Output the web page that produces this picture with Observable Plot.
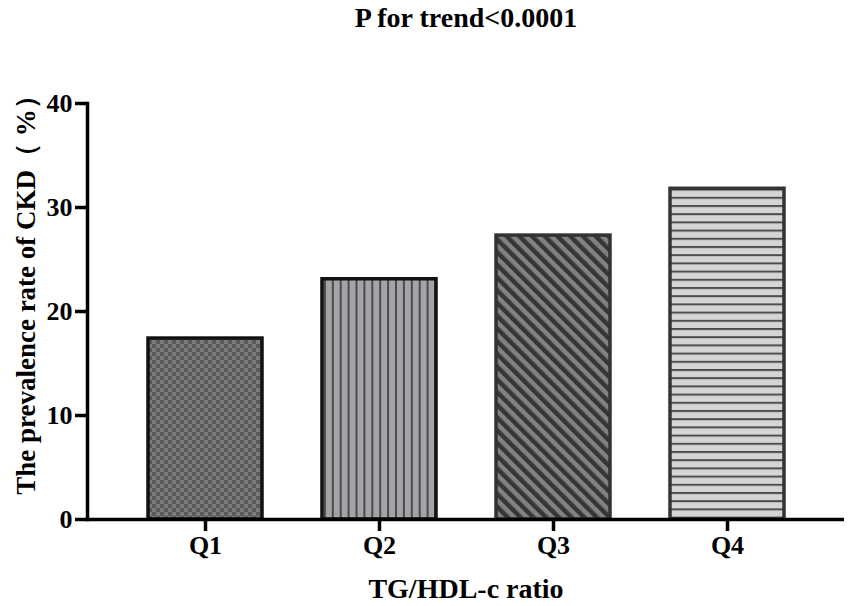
<!DOCTYPE html>
<html>
<head>
<meta charset="utf-8">
<script src="https://cdn.jsdelivr.net/npm/d3@7"></script>
<script src="https://cdn.jsdelivr.net/npm/@observablehq/plot@0.6"></script>
<style>
  html, body { margin: 0; padding: 0; background: #fff; }
  #chart { width: 851px; height: 606px; }
</style>
</head>
<body>
<svg width="0" height="0" style="position:absolute">
  <defs>
    <pattern id="pat-Q1" patternUnits="userSpaceOnUse" width="8" height="8">
      <rect width="8" height="8" fill="#7c7c7c"/>
      <rect width="4" height="4" fill="#5a5a5a"/>
      <rect x="4" y="4" width="4" height="4" fill="#5a5a5a"/>
    </pattern>
    <pattern id="pat-Q2" patternUnits="userSpaceOnUse" width="7.9" height="10">
      <rect width="7.9" height="10" fill="#a4a4a8"/>
      <rect x="0" width="2" height="10" fill="#4a4a4a"/>
    </pattern>
    <pattern id="pat-Q3" patternUnits="userSpaceOnUse" width="9" height="10" patternTransform="rotate(-45)">
      <rect width="9" height="10" fill="#828282"/>
      <rect width="4.5" height="10" fill="#363636"/>
    </pattern>
    <pattern id="pat-Q4" patternUnits="userSpaceOnUse" width="10" height="8.2">
      <rect width="10" height="8.2" fill="#d5d5d5"/>
      <rect width="10" height="2" fill="#4d4d4d"/>
    </pattern>
  </defs>
</svg>
<div id="chart"></div>
<script>
const quartiles = ["Q1", "Q2", "Q3", "Q4"];
const prevalence = [17.4, 23.1, 27.3, 31.8];
const yTicks = [0, 10, 20, 30, 40];
const title = "P for trend<0.0001";
const xTitle = "TG/HDL-c ratio";
const yTitle = "The prevalence rate of CKD（ %）";

const data = quartiles.map((q, i) => ({q, v: prevalence[i]}));
const borderColor = {Q1: "#111", Q2: "#111", Q3: "#333", Q4: "#333"};
const font = "'Liberation Serif', 'Times New Roman', serif";

const chart = Plot.plot({
  width: 851,
  height: 606,
  marginLeft: 87,
  marginRight: 7,
  marginTop: 103,
  marginBottom: 87,
  style: {fontFamily: font, fontWeight: "bold", background: "#fff", color: "#000"},
  x: {domain: quartiles, padding: 0.345, label: null},
  y: {domain: [0, 40], label: null},
  color: {type: "identity"},
  marks: [
    Plot.barY(data, {
      x: "q", y: "v",
      fill: d => `url(#pat-${d.q})`,
      stroke: d => borderColor[d.q],
      strokeWidth: 3.5
    }),
    Plot.ruleY([0], {strokeWidth: 3.5}),
    Plot.frame({anchor: "left", strokeWidth: 3.5}),
    Plot.axisY({ticks: yTicks, tickSize: 12, tickPadding: 3, strokeWidth: 3.5, fontSize: 26, fontWeight: "bold", label: null}),
    Plot.axisX({tickSize: 12, tickPadding: 4, strokeWidth: 3.5, fontSize: 26, fontWeight: "bold", label: null}),
    Plot.text([title], {frameAnchor: "top", dy: -85, fontSize: 28, fontWeight: "bold", lineAnchor: "middle"}),
    Plot.text([xTitle], {frameAnchor: "bottom", dy: 70, fontSize: 28, fontWeight: "bold", lineAnchor: "middle"}),
    Plot.text([yTitle], {frameAnchor: "left", rotate: -90, dx: -61, dy: -23, fontSize: 27, fontWeight: "bold", lineAnchor: "middle", textAnchor: "middle"})
  ]
});
document.getElementById("chart").appendChild(chart);
</script>
</body>
</html>
